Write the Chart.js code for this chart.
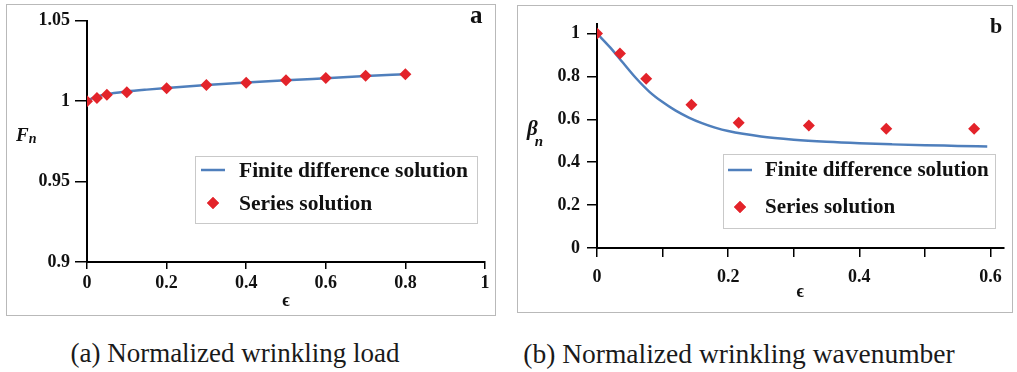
<!DOCTYPE html>
<html>
<head>
<meta charset="utf-8">
<script src="https://cdn.jsdelivr.net/npm/chart.js@4.4.1/dist/chart.umd.min.js"></script>
<style>
  body { margin: 0; width: 1017px; height: 372px; background: #fff; position: relative; overflow: hidden; }
  .frame { position: absolute; box-sizing: border-box; border: 1px solid #b9b9b9; }
  canvas { position: absolute; }
  .caption { position: absolute; font-family: "Liberation Serif", "DejaVu Serif", "Noto Serif", serif; color: #1a1a1a;
             white-space: nowrap; line-height: 27px; transform: translateX(-50%); }
</style>
</head>
<body>
<div class="frame" style="left:6px;top:4px;width:490px;height:312px;"></div>
<div class="frame" style="left:517px;top:5px;width:496px;height:308px;"></div>
<canvas id="chartA" style="left:7px;top:5px;width:488px;height:310px;"></canvas>
<canvas id="chartB" style="left:518px;top:6px;width:494px;height:306px;"></canvas>
<div class="caption" style="left:235px;top:340px;font-size:27px;">(a) Normalized wrinkling load</div>
<div class="caption" style="left:739px;top:340px;font-size:27.5px;">(b) Normalized wrinkling wavenumber</div>
<script>
// (a) normalized wrinkling load
const loadLineX = [0, 0.01, 0.025, 0.05, 0.1, 0.15, 0.2, 0.3, 0.4, 0.5, 0.6, 0.7, 0.8];
const loadLineY = [1.0, 1.0015, 1.0028, 1.0043, 1.006, 1.0072, 1.0082, 1.0100, 1.0116, 1.0130, 1.0143, 1.0156, 1.0168];
const loadSeriesX = [0, 0.025, 0.05, 0.1, 0.2, 0.3, 0.4, 0.5, 0.6, 0.7, 0.8];
const loadSeriesY = [1.0, 1.002, 1.004, 1.0055, 1.008, 1.010, 1.0115, 1.013, 1.0145, 1.0158, 1.0168];
const loadXTicks = [0, 0.2, 0.4, 0.6, 0.8, 1];
const loadYTicks = [0.9, 0.95, 1, 1.05];

// (b) normalized wrinkling wavenumber
const waveLineX = [0, 0.02, 0.04, 0.06, 0.08, 0.1, 0.12, 0.14, 0.16, 0.18, 0.2, 0.25, 0.3, 0.35, 0.4, 0.45, 0.5, 0.55, 0.595];
const waveLineY = [1.0, 0.935, 0.862, 0.79, 0.728, 0.68, 0.64, 0.608, 0.582, 0.561, 0.545, 0.52, 0.505, 0.495, 0.488, 0.483, 0.479, 0.476, 0.473];
const waveSeriesX = [0, 0.035, 0.075, 0.144, 0.216, 0.323, 0.441, 0.575];
const waveSeriesY = [1.0, 0.906, 0.789, 0.668, 0.584, 0.571, 0.556, 0.556];
const waveXTicks = [0, 0.1, 0.2, 0.3, 0.4, 0.5, 0.6];
const waveXLabels = ["0", "", "0.2", "", "0.4", "", "0.6"];
const waveYTicks = [0, 0.2, 0.4, 0.6, 0.8, 1];

const legendLabels = ["Finite difference solution", "Series solution"];

const blue = "#4f7fbc";
const red = "#e3232a";
const serif = "'Liberation Serif', 'DejaVu Serif', 'Noto Serif', serif";

function pairs(xs, ys) {
  return xs.map((x, i) => ({ x: x, y: ys[i] }));
}

// legend box + panel letter + y title, drawn over the chart
const extras = {
  id: "extras",
  afterDraw(chart, args, opts) {
    const ctx = chart.ctx;
    const lg = opts.legend;
    ctx.save();
    ctx.fillStyle = "#fff";
    ctx.fillRect(lg.x, lg.y, lg.w, lg.h);
    ctx.strokeStyle = "#c9c9c9";
    ctx.lineWidth = 1;
    ctx.strokeRect(lg.x + 0.5, lg.y + 0.5, lg.w, lg.h);

    ctx.strokeStyle = blue;
    ctx.lineWidth = 2.5;
    ctx.beginPath();
    ctx.moveTo(lg.lineX0, lg.row1);
    ctx.lineTo(lg.lineX1, lg.row1);
    ctx.stroke();

    ctx.fillStyle = red;
    Chart.helpers.drawPoint(ctx, { pointStyle: "rectRot", radius: 6, borderWidth: 0 }, (lg.lineX0 + lg.lineX1) / 2, lg.row2);
    ctx.fill();

    ctx.fillStyle = "#111";
    ctx.font = "bold " + lg.size + "px " + serif;
    ctx.textBaseline = "middle";
    ctx.fillText(chart.data.datasets[0].label, lg.textX, lg.row1 + 1);
    ctx.fillText(chart.data.datasets[1].label, lg.textX, lg.row2 + 1);

    // panel letter
    ctx.textBaseline = "alphabetic";
    ctx.font = "bold " + opts.letter.size + "px " + serif;
    ctx.fillText(opts.letter.text, opts.letter.x, opts.letter.y);

    // y title with subscript
    const t = opts.ytitle;
    ctx.font = "italic bold " + t.size + "px " + serif;
    ctx.fillText(t.main, t.x, t.y);
    const w = ctx.measureText(t.main).width;
    ctx.font = "italic bold " + t.subSize + "px " + serif;
    ctx.fillText(t.sub, t.x + w + t.subDx, t.y + t.subDy);
    ctx.restore();
  }
};

function axisCommon(tickLen, pad, values, labels) {
  return {
    type: "linear",
    grid: { drawOnChartArea: false, drawTicks: true, tickLength: tickLen, color: "#000", lineWidth: 1.5 },
    border: { color: "#000", width: 2 },
    afterBuildTicks: (s) => { s.ticks = values.map((v) => ({ value: v })); },
    ticks: {
      color: "#111", padding: pad, autoSkip: false,
      font: { family: serif, size: 18, weight: "bold" },
      callback: (v, i) => (labels ? labels[i] : String(values[i]))
    }
  };
}

// ---- chart a ----
const xa = axisCommon(7, 4, loadXTicks);
xa.min = 0; xa.max = 1;
xa.title = { display: true, text: "ϵ", color: "#111", font: { family: serif, size: 18, weight: "bold" }, padding: { top: 0, bottom: 3 } };
xa.afterFit = (s) => { s.height = 53; };
const ya = axisCommon(12, 5, loadYTicks);
ya.min = 0.9; ya.max = 1.05;
ya.afterFit = (s) => { s.width = 80; };

new Chart(document.getElementById("chartA"), {
  type: "scatter",
  data: {
    datasets: [
      { type: "line", label: legendLabels[0], data: pairs(loadLineX, loadLineY), borderColor: blue, borderWidth: 2.5,
        pointRadius: 0, cubicInterpolationMode: "monotone", fill: false, order: 2 },
      { label: legendLabels[1], data: pairs(loadSeriesX, loadSeriesY), pointStyle: "rectRot", pointRadius: 6,
        backgroundColor: red, borderColor: red, borderWidth: 0, order: 1 }
    ]
  },
  options: {
    responsive: false, animation: false,
    layout: { padding: { top: 11, right: 10, left: 0, bottom: 0 } },
    scales: { x: xa, y: ya },
    plugins: {
      legend: { display: false }, tooltip: { enabled: false },
      extras: {
        legend: { x: 188, y: 151, w: 282, h: 67, lineX0: 194, lineX1: 218, row1: 165, row2: 198, textX: 232, size: 21.5 },
        letter: { text: "a", x: 463, y: 18, size: 25 },
        ytitle: { main: "F", sub: "n", x: 9, y: 136, size: 19, subSize: 14, subDx: 0, subDy: 2 }
      }
    }
  },
  plugins: [extras]
});

// ---- chart b ----
const xb = axisCommon(9, 10, waveXTicks, waveXLabels);
xb.min = 0; xb.max = 0.62;
xb.title = { display: true, text: "ϵ", color: "#111", font: { family: serif, size: 18, weight: "bold" }, padding: { top: 0, bottom: 9 } };
xb.afterFit = (s) => { s.height = 64; };
const yb = axisCommon(10, 7, waveYTicks);
yb.min = 0; yb.max = 1.045;
yb.afterFit = (s) => { s.width = 79; };

new Chart(document.getElementById("chartB"), {
  type: "scatter",
  data: {
    datasets: [
      { type: "line", label: legendLabels[0], data: pairs(waveLineX, waveLineY), borderColor: blue, borderWidth: 2.5,
        pointRadius: 0, cubicInterpolationMode: "monotone", fill: false, order: 2 },
      { label: legendLabels[1], data: pairs(waveSeriesX, waveSeriesY), pointStyle: "rectRot", pointRadius: 6,
        backgroundColor: red, borderColor: red, borderWidth: 0, order: 1 }
    ]
  },
  options: {
    responsive: false, animation: false,
    layout: { padding: { top: 12, right: 7, left: 0, bottom: 0 } },
    scales: { x: xb, y: yb },
    plugins: {
      legend: { display: false }, tooltip: { enabled: false },
      extras: {
        legend: { x: 205, y: 148, w: 272, h: 74, lineX0: 210, lineX1: 234, row1: 164, row2: 201, textX: 247, size: 21 },
        letter: { text: "b", x: 472, y: 27, size: 22 },
        ytitle: { main: "β", sub: "n", x: 9, y: 129, size: 21, subSize: 15, subDx: -3, subDy: 11 }
      }
    }
  },
  plugins: [extras]
});
</script>
</body>
</html>
